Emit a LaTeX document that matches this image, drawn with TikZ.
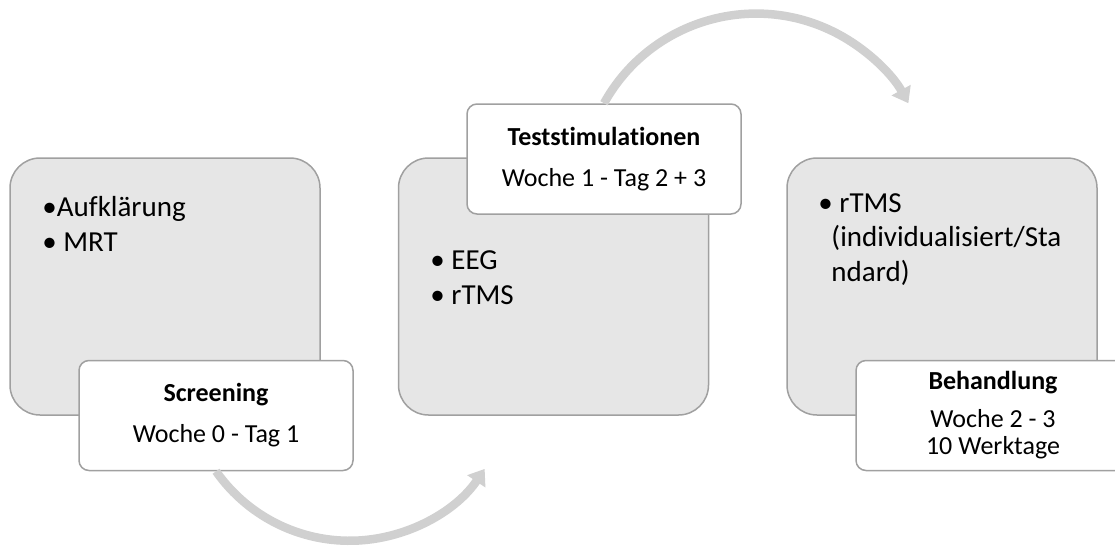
\documentclass[tikz,border=0pt]{standalone}
\usepackage{fontspec}
\setmainfont{Carlito}[Ligatures=CommonOff]
\usetikzlibrary{calc}
\usetikzlibrary{positioning}
\usetikzlibrary{arrows.meta}
\definecolor{phasefill}{HTML}{E6E6E6}
\definecolor{phaseline}{HTML}{A0A0A0}
\definecolor{loopgray}{HTML}{D0D0D0}

\begin{document}
\begin{tikzpicture}[x=1pt, y=-1pt, node distance=77pt,
	phasebox/.style={draw=phaseline, line width=1.5pt, fill=phasefill,
	  rounded corners=30pt, minimum width=310pt, minimum height=257pt},
	phaselabel/.style={draw=phaseline, line width=1.5pt, fill=white,
	  rounded corners=10pt, minimum width=274pt, minimum height=110pt,
	  align=center, anchor=north west, font=\fontsize{26}{27}\selectfont},
	bullets/.style={anchor=base west, align=left, inner sep=0pt,
	  font=\fontsize{29}{34.5}\selectfont},
	loop arrow/.style={draw=loopgray, line width=8.5pt,
	  -{Triangle[width=21pt,length=15pt]}}]
\useasboundingbox (0,0) rectangle (1115,546);

\node[phasebox] (screen) at (165,286.5) {};
\node[phasebox, right=of screen] (test) {};
\node[phasebox, right=of test] (treat) {};

% base anchor sits on the last line
\node[bullets] (screenitems) at ($(screen.north west)+(33,94)$) {•Aufklärung\\• MRT};
\node[bullets] (testitems) at ($(test.north west)+(32.5,147)$) {• EEG\\• rTMS};
\node[bullets] (treatitems) at ($(treat.north west)+(32,124)$)
  {• rTMS\\\hspace*{13pt}(individualisiert/Sta\\\hspace*{13pt}ndard)};

\node[phaselabel] (screentag) at ($(screen.south west)+(69,-56)$)
  {\textbf{Screening}\\[14pt]Woche 0 - Tag 1};
\node[phaselabel] (testtag) at ($(test.north west)+(68.5,-54)$)
  {\textbf{Teststimulationen}\\[14pt]Woche 1 - Tag 2 + 3};
\node[phaselabel] (treattag) at ($(treat.south west)+(69,-56)$)
  {\textbf{Behandlung}\\[11pt]Woche 2 - 3\\10 Werktage};

\draw[loop arrow] (screentag.south) arc[start angle=145, end angle=34, radius=163];
\draw[loop arrow] (testtag.north) arc[start angle=-151, end angle=-29, radius=174];
\end{tikzpicture}
\end{document}
